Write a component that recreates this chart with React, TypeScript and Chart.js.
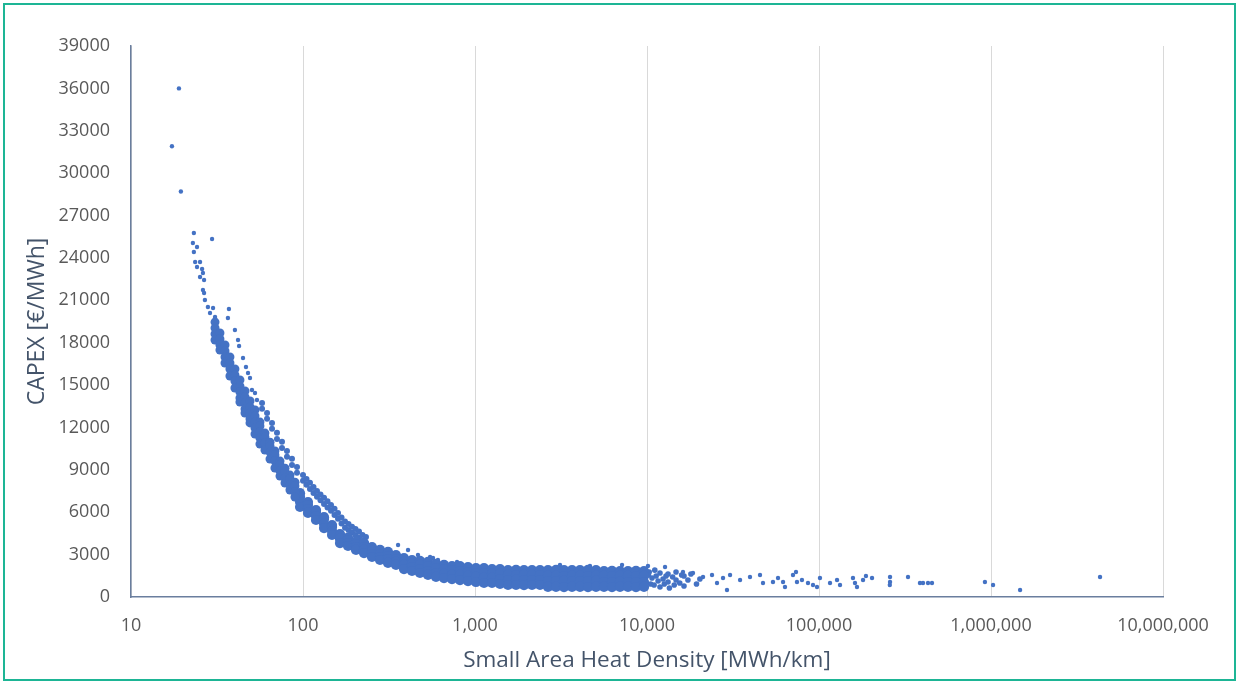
import React, { useEffect, useRef } from "react";
import { Chart, registerables } from "chart.js";

Chart.register(...registerables);

// ---------- axis setup ----------
const xTickValues = [10, 100, 1000, 10000, 100000, 1000000, 10000000];
const yMin = 0;
const yMax = 39000;
const yStep = 3000;
const xTitle = "Small Area Heat Density [MWh/km]";
const yTitle = "CAPEX [€/MWh]";

// ---------- data ----------
// isolated points at the steep start of the curve
const topOutliers: [number, number][] = [
  [19.0, 36000], [17.3, 31900], [19.5, 28700], [29.6, 25340],
];

// sparse start of the lower (main) band
const steepSparse: [number, number][] = [
  [23.2, 25760], [22.9, 25060], [24.2, 24770], [23.2, 24420], [23.6, 23710],
  [25.2, 23710], [24.2, 23360], [25.9, 23220], [26.2, 22930], [25.2, 22650],
  [26.6, 22440], [26.2, 21730], [26.6, 21520], [26.9, 21020], [28.0, 20530],
  [30.0, 20460], [28.8, 20100], [30.8, 19820],
];

// sparse start of the upper band
const upperSparse: [number, number][] = [
  [37.1, 20380], [36.6, 19750], [40.2, 18900], [41.9, 18190], [42.5, 17770],
  [44.8, 16920], [46.6, 16280], [47.9, 15850], [49.2, 15500], [50.5, 14650],
  [52.6, 14440], [54.0, 13940],
];

// lower dense band: [heat density, CAPEX values in that column]
const lowerBandColumns: [number, number[]][] = [
  [30.8, [19460, 19040, 18620, 18190]],
  [32.9, [18690, 18260, 17840, 17480]],
  [35.2, [17840, 17410, 16990, 16560]],
  [37.6, [16990, 16560, 16140, 15640]],
  [40.2, [16140, 15710, 15290, 14790]],
  [43.0, [15360, 14930, 14510, 14090, 13800]],
  [46.0, [14580, 14160, 13730, 13310, 13020]],
  [49.2, [13870, 13450, 13020, 12600, 12320]],
  [52.6, [13240, 12810, 12390, 11960, 11540]],
  [56.2, [12380, 12100, 11680, 11250, 10830]],
  [60.1, [11600, 11320, 10900, 10400]],
  [64.3, [10960, 10690, 10260, 9770]],
  [68.7, [10330, 10050, 9630, 9130]],
  [73.5, [9620, 9340, 8920, 8560]],
  [78.6, [9120, 8850, 8420, 8070]],
  [84.0, [8630, 8350, 7930, 7570]],
  [89.8, [8130, 7860, 7430, 7080]],
  [96.1, [7350, 7080, 6720, 6370]],
  [106.9, [6720, 6510, 6230, 5950]],
  [119.0, [6150, 6020, 5730, 5450]],
  [132.5, [5650, 5520, 5170, 4880]],
  [147.5, [5090, 4950, 4670, 4390]],
  [164.1, [4450, 4320, 4110, 3820]],
  [182.7, [4200, 4030, 3820, 3610]],
  [203.3, [3930, 3750, 3540, 3330]],
  [226.3, [3820, 3540, 3330, 3110]],
  [251.9, [3540, 3260, 3040, 2830]],
  [280.4, [3330, 3040, 2830, 2620]],
  [312.1, [3190, 2900, 2690, 2410]],
  [347.3, [2970, 2690, 2480, 2270]],
  [386.6, [2760, 2480, 2270, 1980]],
  [430.3, [2620, 2340, 2120, 1840]],
  [478.9, [2550, 2270, 1980, 1700]],
  [533.1, [2480, 2190, 1840, 1560]],
  [593.4, [2340, 2050, 1700, 1420]],
  [660.5, [2270, 1980, 1630, 1340]],
  [735.1, [2190, 1910, 1560, 1270]],
  [818.2, [2190, 1840, 1560, 1200]],
  [910.7, [2120, 1770, 1490, 1130]],
  [1013, [2050, 1700, 1420, 1060]],
  [1128, [2050, 1700, 1350, 990]],
  [1256, [1980, 1630, 1350, 990]],
  [1398, [1980, 1630, 1270, 920]],
  [1556, [1910, 1560, 1200, 850]],
  [1732, [1920, 1550, 1210, 850]],
  [1927, [1910, 1560, 1200, 840]],
  [2145, [1900, 1560, 1200, 850]],
  [2388, [1910, 1550, 1200, 850]],
  [2657, [1910, 1490, 1130, 710]],
  [2958, [1920, 1490, 1130, 710]],
  [3292, [1910, 1480, 1140, 700]],
  [3665, [1900, 1490, 1130, 710]],
  [4079, [1910, 1490, 1130, 710]],
  [4540, [1920, 1480, 1130, 700]],
  [5053, [1910, 1490, 1140, 710]],
  [5623, [1840, 1490, 1060, 710]],
  [6259, [1850, 1480, 1060, 700]],
  [6966, [1840, 1490, 1070, 710]],
  [7754, [1840, 1490, 1060, 710]],
  [8630, [1850, 1480, 1060, 700]],
  [9607, [1840, 1490, 1060, 710]],
];

// upper thinner band
const upperBandColumns: [number, number[]][] = [
  [57.8, [13740, 13320]],
  [61.8, [13030, 12610]],
  [66.05, [12320, 11900]],
  [70.6, [11620, 11190]],
  [75.5, [10980, 10550]],
  [80.7, [10340, 9920]],
  [86.3, [9780, 9350]],
  [92.3, [9210, 8790]],
  [100, [8640, 8220]],
  [104.8, [8360, 7940]],
  [109.8, [8080, 7650]],
  [115.1, [7790, 7370]],
  [120.6, [7510, 7090]],
  [126.4, [7260, 6840]],
  [132.5, [7020, 6590]],
  [138.8, [6770, 6340]],
  [145.5, [6520, 6100]],
  [152.5, [6240, 5810]],
  [159.8, [5950, 5530]],
  [167.5, [5620, 5200]],
  [175.5, [5340, 4910]],
  [183.9, [5160, 4740]],
  [192.7, [4980, 4560]],
  [202.0, [4810, 4380]],
  [211.6, [4630, 4210]],
  [221.8, [4390, 3960]],
  [232.4, [4250, 3820]],
];

// loose points just above the flat part of the band
const aboveBand: [number, number][] = [
  [357, 3680], [408, 3330], [466, 2970], [548, 2830], [570, 2760], [609, 2620],
  [786, 2480], [3120, 2270], [4660, 2190], [7160, 2270], [10130, 2190], [12730, 2120],
];

// thinning end of the dense band
const bandEnd: [number, number][] = [
  [10300, 1770], [10690, 1340], [10500, 920], [10200, 1560], [11000, 850],
  [11100, 1900], [11300, 1490], [11600, 1130], [11900, 1700], [11900, 710],
  [12400, 1270], [12600, 920], [12900, 1490], [13250, 1630], [13250, 1060],
  [13500, 640], [14100, 1420], [14400, 850], [14750, 1770], [14750, 1200],
  [15500, 990], [15900, 1560], [16410, 1490], [16410, 780], [17300, 1200],
  [18000, 1630], [19400, 920], [20300, 1270],
];

// scattered tail at high densities
const tail: [number, number][] = [
  [16190, 1770], [18510, 1700], [21170, 1420], [23880, 1560], [25530, 990],
  [27670, 1340], [29180, 500], [30400, 1560], [34760, 1200], [39700, 1420],
  [45400, 1560], [47250, 990], [54000, 1060], [57770, 1340], [61800, 1060],
  [63430, 710], [70600, 1560], [73500, 1770], [74470, 1060], [79600, 1200],
  [86300, 990], [92300, 850], [97360, 710], [101300, 1340], [115900, 990],
  [127300, 1200], [132500, 850], [157600, 1340], [161900, 990], [166300, 710],
  [180300, 1200], [187500, 1490], [203400, 1340], [258800, 1420], [258800, 1060],
  [258000, 850], [329200, 1420], [386400, 990], [402500, 990], [430300, 990],
  [453900, 990], [922000, 1060], [1028000, 850], [1476000, 500], [4305000, 1420],
];

const POINT_COLOR = "#4472C4";

const columnsToPoints = (cols: [number, number[]][]) =>
  cols.flatMap(([x, ys]) => ys.map((y) => ({ x, y })));
const pairsToPoints = (pairs: [number, number][]) => pairs.map(([x, y]) => ({ x, y }));

export default function App() {
  const canvasRef = useRef<HTMLCanvasElement | null>(null);

  useEffect(() => {
    if (!canvasRef.current) return;
    const family = "'Open Sans', 'Liberation Sans', sans-serif";
    const tickFont = { family, size: 18 };
    const axisLine = "#6A7E9E";
    const splitX = 90; // columns become wider-spaced beyond this density

    const pointSet = (label: string, data: { x: number; y: number }[], r: number) => ({
      label,
      data,
      backgroundColor: POINT_COLOR,
      borderWidth: 0,
      pointRadius: r,
    });

    const chart = new Chart(canvasRef.current, {
      type: "scatter",
      data: {
        datasets: [
          pointSet("lower band", columnsToPoints(lowerBandColumns.filter((c) => c[0] < splitX)), 4.5),
          pointSet("flat band", columnsToPoints(lowerBandColumns.filter((c) => c[0] >= splitX)), 5.1),
          pointSet("upper band", columnsToPoints(upperBandColumns), 3),
          pointSet("band end", pairsToPoints(bandEnd), 2.8),
          pointSet("sparse", [
            ...pairsToPoints(topOutliers),
            ...pairsToPoints(steepSparse),
            ...pairsToPoints(upperSparse),
            ...pairsToPoints(aboveBand),
            ...pairsToPoints(tail),
          ], 2.2),
        ],
      },
      options: {
        responsive: false,
        animation: false,
        events: [],
        layout: { padding: { left: 0, right: 76, top: 46, bottom: 0 } },
        plugins: { legend: { display: false }, tooltip: { enabled: false } },
        scales: {
          x: {
            type: "logarithmic",
            min: xTickValues[0],
            max: xTickValues[xTickValues.length - 1],
            afterFit: (s: any) => {
              s.height = 87;
            },
            afterBuildTicks: (s: any) => {
              s.ticks = xTickValues.map((v) => ({ value: v }));
            },
            ticks: {
              callback: (v: any) => Number(v).toLocaleString("en-US"),
              font: tickFont,
              color: "#595959",
              padding: 18,
              maxRotation: 0,
              autoSkip: false,
            },
            grid: { color: "#D9D9D9", lineWidth: 1, drawTicks: false },
            border: { color: axisLine, width: 1.5 },
            title: {
              display: true,
              text: xTitle,
              font: { family, size: 22.5 },
              color: "#44546A",
              padding: { top: 0, bottom: 9.5 },
            },
          },
          y: {
            min: yMin,
            max: yMax,
            afterFit: (s: any) => {
              s.width = 131;
            },
            ticks: {
              stepSize: yStep,
              callback: (v: any) => String(v),
              font: tickFont,
              color: "#595959",
              padding: 21,
            },
            grid: { display: false, drawTicks: false },
            border: { color: axisLine, width: 1.5 },
            title: {
              display: true,
              text: yTitle,
              font: { family, size: 23 },
              color: "#44546A",
              padding: { top: 23.5, bottom: 0 },
            },
          },
        },
      },
    } as any);
    return () => chart.destroy();
  }, []);

  return (
    <div style={{ position: "fixed", left: 0, top: 0, width: 1239, height: 684, background: "#fff" }}>
      <canvas ref={canvasRef} width={1239} height={684} style={{ display: "block" }} />
      <div
        style={{
          position: "absolute",
          left: 3,
          top: 3,
          width: 1233,
          height: 678,
          boxSizing: "border-box",
          border: "2px solid #1DB595",
          pointerEvents: "none",
        }}
      />
    </div>
  );
}
